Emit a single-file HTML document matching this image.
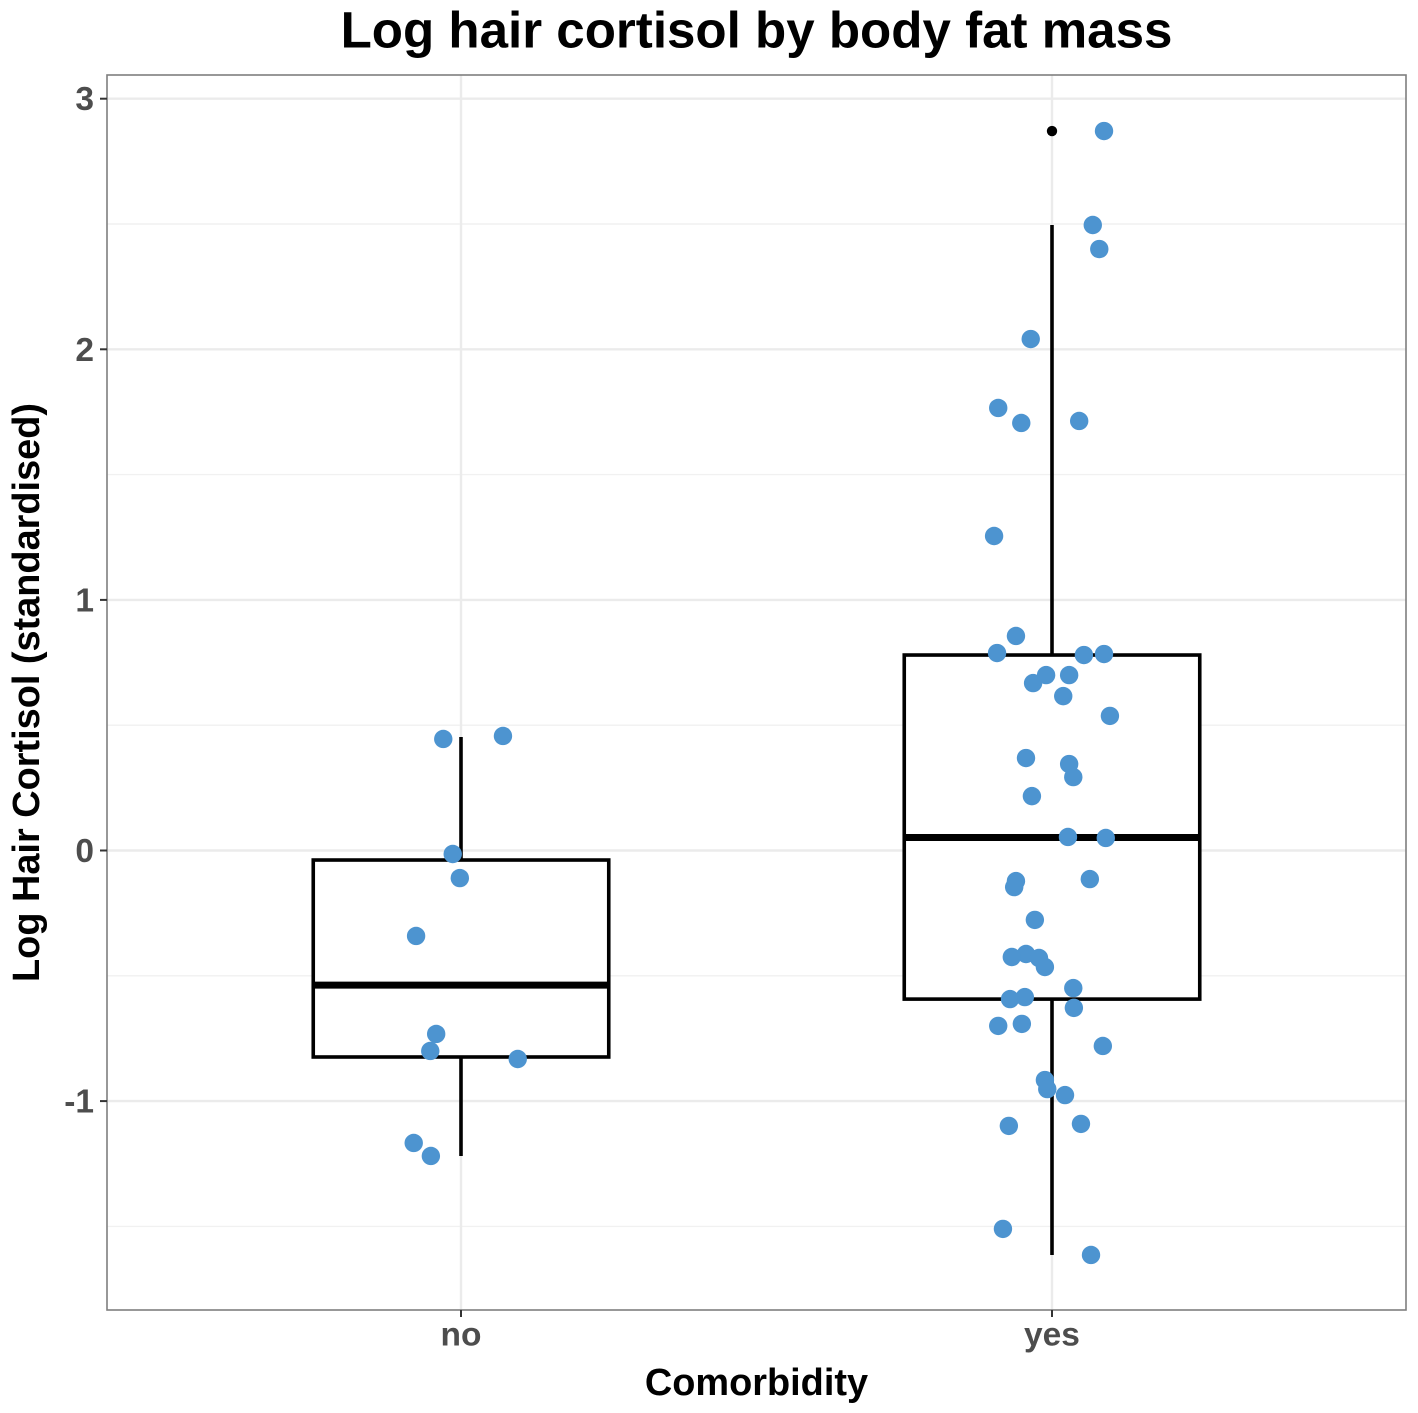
<!DOCTYPE html>
<html lang="en">
<head>
<meta charset="utf-8">
<title>Log hair cortisol by body fat mass</title>
<style>
html,body{margin:0;padding:0;background:#fff;}
body{width:1418px;height:1413px;overflow:hidden;}
svg{display:block;font-family:"Liberation Sans",sans-serif;font-weight:bold;}
</style>
</head>
<body>
<svg id="chart" xmlns="http://www.w3.org/2000/svg" width="1418" height="1413" viewBox="0 0 1418 1413">
<rect width="1418" height="1413" fill="#fff"/>
<text x="756.5" y="47.5" text-anchor="middle" font-size="51.1" fill="#000">Log hair cortisol by body fat mass</text>
<text x="756.5" y="1395" text-anchor="middle" font-size="37.9" fill="#000">Comorbidity</text>
<text transform="translate(39,692.5) rotate(-90)" text-anchor="middle" font-size="37.9" fill="#000">Log Hair Cortisol (standardised)</text>
<g id="grid"></g>
<g id="boxes"></g>
<g id="points"></g>
<rect x="107" y="75" width="1299" height="1235" fill="none" stroke="#7f7f7f" stroke-width="1.6"/>
<g id="axes"></g>
</svg>
<script>
const categories = ["no", "yes"];
const yMajorTicks = [-1, 0, 1, 2, 3];
const yMinorTicks = [-1.5, -0.5, 0.5, 1.5, 2.5];
const yTickLabels = ["-1", "0", "1", "2", "3"];

const q1Values = [-0.824, -0.593];
const medianValues = [-0.537, 0.052];
const q3Values = [-0.038, 0.780];
const whiskerLowValues = [-1.219, -1.614];
const whiskerHighValues = [0.453, 2.496];
const outlierCategories = [1];
const outlierValues = [2.871];

const noJitter = [-0.030, 0.071, -0.014, -0.002, -0.076, -0.042, -0.052, 0.096, -0.080, -0.051];
const noValues = [0.445, 0.457, -0.014, -0.110, -0.341, -0.732, -0.800, -0.832, -1.167, -1.219];

const yesJitter = [0.088, 0.069, 0.080, -0.036, -0.091, -0.052, 0.046, -0.098, -0.061, -0.093, 0.054, 0.088, -0.010, 0.029, -0.032, 0.019, 0.098, -0.044, 0.029, 0.036, -0.034, 0.027, 0.091, 0.064, -0.061, -0.064, -0.029, -0.044, -0.068, -0.022, -0.012, 0.036, -0.046, -0.071, 0.037, -0.051, -0.091, 0.086, -0.012, -0.008, 0.022, 0.049, -0.073, -0.083, 0.066];
const yesValues = [2.871, 2.496, 2.400, 2.041, 1.766, 1.706, 1.714, 1.255, 0.856, 0.788, 0.780, 0.784, 0.700, 0.700, 0.668, 0.616, 0.537, 0.369, 0.345, 0.293, 0.217, 0.054, 0.050, -0.114, -0.122, -0.146, -0.277, -0.413, -0.425, -0.429, -0.465, -0.549, -0.585, -0.593, -0.628, -0.692, -0.700, -0.780, -0.916, -0.952, -0.976, -1.091, -1.099, -1.510, -1.614];

const PANEL = {left: 107, right: 1406, top: 75, bottom: 1310};
const BOX_WIDTH = 0.5;
const NS = "http://www.w3.org/2000/svg";

function xScale(pos) { return 461 + pos * 591; }
function yScale(v) { return 850.5 - v * 250.6; }

function make(parent, tag, attrs) {
  const el = document.createElementNS(NS, tag);
  for (const k in attrs) el.setAttribute(k, attrs[k]);
  parent.appendChild(el);
  return el;
}

const gridG = document.getElementById("grid");
const boxG = document.getElementById("boxes");
const pointG = document.getElementById("points");
const axesG = document.getElementById("axes");

yMinorTicks.forEach(function (t) {
  const el = make(gridG, "line", {x1: PANEL.left, x2: PANEL.right, y1: yScale(t), y2: yScale(t), stroke: "#f1f1f1", "stroke-width": 1.4});
  
  
});
yMajorTicks.forEach(function (t) {
  const el = make(gridG, "line", {x1: PANEL.left, x2: PANEL.right, y1: yScale(t), y2: yScale(t), stroke: "#ebebeb", "stroke-width": 2.4});
  
  
});
categories.forEach(function (c, i) {
  const el = make(gridG, "line", {x1: xScale(i), x2: xScale(i), y1: PANEL.top, y2: PANEL.bottom, stroke: "#ebebeb", "stroke-width": 2.4});
  
  
});

categories.forEach(function (c, i) {
  const cx = xScale(i);
  const lo = make(boxG, "line", {x1: cx, x2: cx, y1: yScale(q1Values[i]), y2: yScale(whiskerLowValues[i]), stroke: "#000", "stroke-width": 3.6});
  
  
  const hi = make(boxG, "line", {x1: cx, x2: cx, y1: yScale(q3Values[i]), y2: yScale(whiskerHighValues[i]), stroke: "#000", "stroke-width": 3.6});
  
  
  const x0 = xScale(i - BOX_WIDTH / 2);
  const x1 = xScale(i + BOX_WIDTH / 2);
  const box = make(boxG, "rect", {x: x0, y: yScale(q3Values[i]), width: x1 - x0, height: yScale(q1Values[i]) - yScale(q3Values[i]), fill: "#fff", stroke: "#000", "stroke-width": 3.6});
  
  
  const med = make(boxG, "line", {x1: x0, x2: x1, y1: yScale(medianValues[i]), y2: yScale(medianValues[i]), stroke: "#000", "stroke-width": 7});
  
  
});

outlierValues.forEach(function (v, i) {
  const o = make(boxG, "circle", {cx: xScale(outlierCategories[i]), cy: yScale(v), r: 5.2, fill: "#000"});
  
  
});

noValues.forEach(function (v, i) {
  const p = make(pointG, "circle", {cx: xScale(0 + noJitter[i]), cy: yScale(v), r: 9.2, fill: "#4d94d0"});
  
  
});
yesValues.forEach(function (v, i) {
  const p = make(pointG, "circle", {cx: xScale(1 + yesJitter[i]), cy: yScale(v), r: 9.2, fill: "#4d94d0"});
  
  
});

yMajorTicks.forEach(function (t, i) {
  const tick = make(axesG, "line", {x1: PANEL.left - 7, x2: PANEL.left, y1: yScale(t), y2: yScale(t), stroke: "#333", "stroke-width": 2});
  
  
  const label = make(axesG, "text", {x: 94, y: yScale(t) + 11.5, "text-anchor": "end", "font-size": 33.5, fill: "#4d4d4d"});
  label.textContent = yTickLabels[i];
  
  
});
categories.forEach(function (c, i) {
  const tick = make(axesG, "line", {x1: xScale(i), x2: xScale(i), y1: PANEL.bottom, y2: PANEL.bottom + 7, stroke: "#333", "stroke-width": 2});
  
  
  const label = make(axesG, "text", {x: xScale(i), y: 1345.5, "text-anchor": "middle", "font-size": 33.5, fill: "#4d4d4d"});
  label.textContent = c;
  
  
});
</script>
</body>
</html>
